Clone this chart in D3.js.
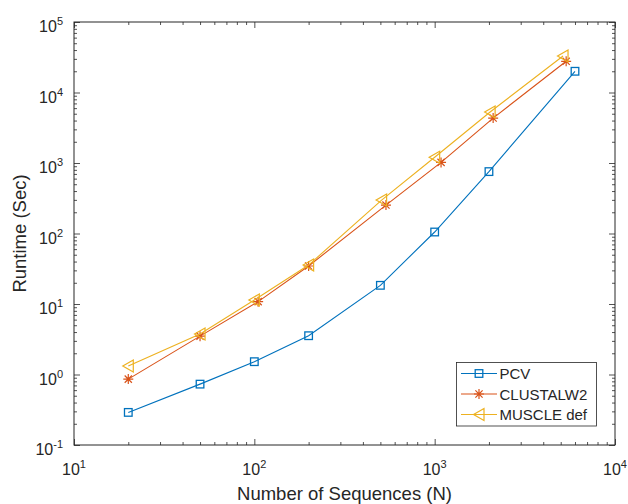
<!DOCTYPE html>
<html>
<head>
<meta charset="utf-8">
<script src="https://cdn.jsdelivr.net/npm/d3@7"></script>
<style>
  html, body { margin: 0; padding: 0; background: #ffffff; }
  svg { display: block; }
  text { font-family: "Liberation Sans", Arial, Helvetica, sans-serif; fill: #262626; }
</style>
</head>
<body>
<svg id="chart" width="628" height="504"></svg>
<script>
// ---- data ----
const seriesNames = ["PCV", "CLUSTALW2", "MUSCLE def"];
const pcvN = [20, 50, 100, 200, 500, 1000, 2000, 6000];
const pcvTime = [0.29, 0.73, 1.52, 3.55, 18.4, 105, 755, 20000];
const clustalN = [20, 50, 105, 200, 537, 1085, 2110, 5360];
const clustalTime = [0.86, 3.5, 10.8, 34.6, 253, 1020, 4340, 27700];
const muscleN = [20, 50, 100, 200, 508, 1000, 2030, 5150];
const muscleTime = [1.32, 3.75, 11.4, 35.7, 298, 1205, 5285, 33000];
const xTickExps = [1, 2, 3, 4];
const yTickExps = [-1, 0, 1, 2, 3, 4, 5];
const xLabel = "Number of Sequences (N)";
const yLabel = "Runtime (Sec)";

// ---- layout ----
const W = 628, H = 504;
const L = 74, R = 615, T = 22, B = 445;
const colors = ["#0072BD", "#D95319", "#EDB120"];
const axisColor = "#262626";

const svg = d3.select("#chart");
const x = d3.scaleLog().domain([10, 1e4]).range([L, R]);
const y = d3.scaleLog().domain([0.1, 1e5]).range([B, T]);

const majorX = xTickExps.map(e => Math.pow(10, e));
const majorY = yTickExps.map(e => Math.pow(10, e));
function minors(lo, hi) {
  const out = [];
  for (let e = lo; e < hi; e++) for (let k = 2; k <= 9; k++) out.push(k * Math.pow(10, e));
  return out;
}
const minorX = minors(1, 4);
const minorY = minors(-1, 5);

// background
svg.append("rect").attr("x", 0).attr("y", 0).attr("width", W).attr("height", H).attr("fill", "#fff");
svg.append("rect").attr("x", L).attr("y", T).attr("width", R - L).attr("height", B - T).attr("fill", "#fff");

// ticks (inward, on all four sides)
function tickGroup(axisGen, tx, ty) {
  const g = svg.append("g").attr("transform", `translate(${tx},${ty})`).call(axisGen);
  g.select(".domain").remove();
  g.selectAll("text").remove();
  g.selectAll("line").attr("stroke", axisColor).attr("stroke-width", 0.8);
  return g;
}
const majLen = 6, minLen = 3;
tickGroup(d3.axisBottom(x).tickValues(majorX).tickSize(-majLen), 0, B);
tickGroup(d3.axisBottom(x).tickValues(minorX).tickSize(-minLen), 0, B);
tickGroup(d3.axisTop(x).tickValues(majorX).tickSize(-majLen), 0, T);
tickGroup(d3.axisTop(x).tickValues(minorX).tickSize(-minLen), 0, T);
tickGroup(d3.axisLeft(y).tickValues(majorY).tickSize(-majLen), L, 0);
tickGroup(d3.axisLeft(y).tickValues(minorY).tickSize(-minLen), L, 0);
tickGroup(d3.axisRight(y).tickValues(majorY).tickSize(-majLen), R, 0);
tickGroup(d3.axisRight(y).tickValues(minorY).tickSize(-minLen), R, 0);

// box
svg.append("rect").attr("x", L).attr("y", T).attr("width", R - L).attr("height", B - T)
  .attr("fill", "none").attr("stroke", axisColor).attr("stroke-width", 1);

// tick labels with superscripts
function powLabel(sel, e) {
  sel.append("tspan").text("10").attr("font-size", 16);
  sel.append("tspan").text(String(e)).attr("font-size", 11).attr("dy", -7);
}
xTickExps.forEach(e => {
  const t = svg.append("text").attr("x", x(Math.pow(10, e))).attr("y", B + 30)
    .attr("text-anchor", "middle");
  powLabel(t, e);
});
yTickExps.forEach(e => {
  const t = svg.append("text").attr("x", 63).attr("y", y(Math.pow(10, e)) + 10)
    .attr("text-anchor", "end");
  powLabel(t, e);
});

// axis labels
svg.append("text").attr("x", (L + R) / 2).attr("y", 500).attr("text-anchor", "middle")
  .attr("font-size", 18.5).text(xLabel);
svg.append("text").attr("transform", `translate(26,${(T + B) / 2}) rotate(-90)`)
  .attr("text-anchor", "middle").attr("font-size", 18.5).text(yLabel);

// markers
function drawMarker(g, type, cx, cy, color) {
  if (type === 0) {
    g.append("rect").attr("x", cx - 3.8).attr("y", cy - 3.8).attr("width", 7.6).attr("height", 7.6)
      .attr("fill", "none").attr("stroke", color).attr("stroke-width", 1.3);
  } else if (type === 1) {
    const r = 5;
    const d = r * 0.72;
    const path = `M${cx - r},${cy}L${cx + r},${cy}M${cx},${cy - r}L${cx},${cy + r}` +
      `M${cx - d},${cy - d}L${cx + d},${cy + d}M${cx - d},${cy + d}L${cx + d},${cy - d}`;
    g.append("path").attr("d", path).attr("stroke", color).attr("stroke-width", 1.2).attr("fill", "none");
  } else {
    const path = `M${cx - 5.5},${cy}L${cx + 5},${cy - 6}L${cx + 5},${cy + 6}Z`;
    g.append("path").attr("d", path).attr("stroke", color).attr("stroke-width", 1.2).attr("fill", "none");
  }
}

const series = [
  { n: pcvN, t: pcvTime },
  { n: clustalN, t: clustalTime },
  { n: muscleN, t: muscleTime }
];
const line = d3.line().x(d => x(d[0])).y(d => y(d[1]));
series.forEach((s, i) => {
  const pts = s.n.map((n, j) => [n, s.t[j]]);
  const g = svg.append("g");
  g.append("path").attr("d", line(pts)).attr("fill", "none").attr("stroke", colors[i]).attr("stroke-width", 1.1);
  pts.forEach(p => drawMarker(g, i, x(p[0]), y(p[1]), colors[i]));
});

// legend
const lg = svg.append("g");
lg.append("rect").attr("x", 456.5).attr("y", 362.5).attr("width", 140).attr("height", 63.5)
  .attr("fill", "#fff").attr("stroke", axisColor).attr("stroke-width", 0.8);
seriesNames.forEach((name, i) => {
  const yy = 373.5 + i * 20.5;
  lg.append("line").attr("x1", 461).attr("x2", 497).attr("y1", yy).attr("y2", yy)
    .attr("stroke", colors[i]).attr("stroke-width", 1.1);
  drawMarker(lg, i, 479, yy, colors[i]);
  lg.append("text").attr("x", 499.5).attr("y", yy + 5.5).attr("font-size", 15).text(name);
});
</script>
</body>
</html>
